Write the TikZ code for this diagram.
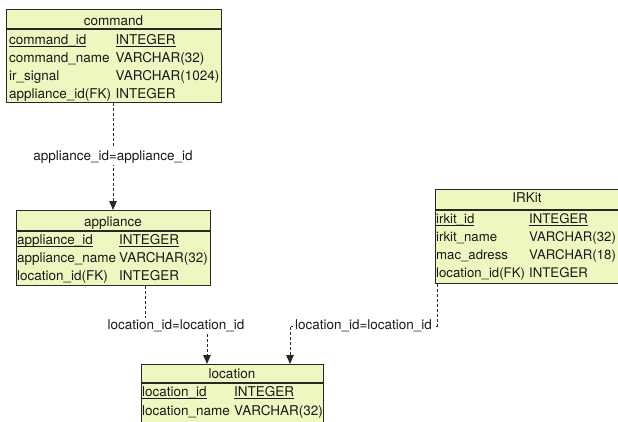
\documentclass[tikz,border=0pt]{standalone}
\usepackage{fontspec}
\setmainfont{TeX Gyre Heros}
\usetikzlibrary{arrows.meta}
\definecolor{tblfill}{RGB}{237,247,192}
\definecolor{ink}{RGB}{25,25,25}
\definecolor{edge}{RGB}{40,40,40}
\newcommand\pkey[1]{\setbox0\hbox{#1}\rlap{\rule[-2.3pt]{\wd0}{0.85pt}}\box0}
\begin{document}
\begin{tikzpicture}[x=1pt,y=-1pt,
  tbl/.style={draw=edge,line width=1.2pt,fill=tblfill,rectangle,inner sep=0pt,anchor=north west},
  fld/.style={anchor=base west,inner sep=0pt,text=ink,font=\fontsize{13.5}{16}\selectfont},
  ifld/.style={fld,font=\fontsize{13.2}{16}\selectfont},
  hdr/.style={anchor=base,inner sep=0pt,text=ink,font=\fontsize{13.5}{16}\selectfont},
  conn/.style={draw=edge,line width=0.9pt,dash pattern=on 3pt off 2pt},
  arr/.style={-{Triangle[length=9pt,width=7.5pt]}},
  lbl/.style={fill=white,inner xsep=2pt,inner ysep=2pt,text=ink,font=\fontsize{13.5}{16}\selectfont}]
\useasboundingbox (0,0) rectangle (618,421);
\fill[white] (0,0) rectangle (618,421);

% ---- command ----
\node[tbl,minimum width=215pt,minimum height=93pt] (cmd) at (6,9) {};
\draw[edge,line width=1.2pt] ([yshift=-20pt]cmd.north west) -- ([yshift=-20pt]cmd.north east);
\node[hdr] (cmdh) at (113.5,25) {command};
\node[fld] (cmd1a) at (9,44.5) {\pkey{command\_id}};
\node[fld] (cmd1b) at (115.5,44.5) {\pkey{INTEGER}};
\node[fld] (cmd2a) at (9,62.5) {command\_name};
\node[fld] (cmd2b) at (115.5,62.5) {VARCHAR(32)};
\node[fld] (cmd3a) at (9,80.5) {ir\_signal};
\node[fld] (cmd3b) at (115.5,80.5) {VARCHAR(1024)};
\node[fld] (cmd4a) at (9,98.5) {appliance\_id(FK)};
\node[fld] (cmd4b) at (115.5,98.5) {INTEGER};

% ---- appliance ----
\node[tbl,minimum width=194pt,minimum height=75pt] (app) at (16,210) {};
\draw[edge,line width=1.2pt] ([yshift=-21pt]app.north west) -- ([yshift=-21pt]app.north east);
\node[hdr] (apph) at (113,226) {appliance};
\node[fld] (app1a) at (17,244.5) {\pkey{appliance\_id}};
\node[fld] (app1b) at (119,244.5) {\pkey{INTEGER}};
\node[fld] (app2a) at (17,262.5) {appliance\_name};
\node[fld] (app2b) at (119,262.5) {VARCHAR(32)};
\node[fld] (app3a) at (17,280.5) {location\_id(FK)};
\node[fld] (app3b) at (119,280.5) {INTEGER};

% ---- IRKit ----
\node[tbl,minimum width=190pt,minimum height=94pt] (irk) at (435,189) {};
\draw[edge,line width=1.2pt] ([yshift=-21pt]irk.north west) -- ([yshift=-21pt]irk.north east);
\node[hdr] (irkh) at (527,202.5) {IRKit};
\node[ifld] (irk1a) at (436,223.5) {\pkey{irkit\_id}};
\node[ifld] (irk1b) at (529,223.5) {\pkey{INTEGER}};
\node[ifld] (irk2a) at (436,241.5) {irkit\_name};
\node[ifld] (irk2b) at (529,241.5) {VARCHAR(32)};
\node[ifld] (irk3a) at (436,259.5) {mac\_adress};
\node[ifld] (irk3b) at (529,259.5) {VARCHAR(18)};
\node[ifld] (irk4a) at (436,277.5) {location\_id(FK)};
\node[ifld] (irk4b) at (529,277.5) {INTEGER};

% ---- location ----
\node[tbl,minimum width=182pt,minimum height=70pt] (loc) at (141,364) {};
\draw[edge,line width=1.2pt] ([yshift=-19pt]loc.north west) -- ([yshift=-19pt]loc.north east);
\node[hdr] (loch) at (232,378) {location};
\node[fld] (loc1a) at (142,396.7) {\pkey{location\_id}};
\node[fld] (loc1b) at (234,396.7) {\pkey{INTEGER}};
\node[fld] (loc2a) at (142,415) {location\_name};
\node[fld] (loc2b) at (234,415) {VARCHAR(32)};

% ---- connectors ----
\draw[conn,arr] ([xshift=107pt]cmd.south west) -- node[lbl] (l1) {appliance\_id=appliance\_id} ([xshift=97pt]app.north west);
\draw[conn,arr] ([xshift=129pt]app.south west) -- ++(0,40) -| node[lbl,pos=0.25] (l2) {location\_id=location\_id} ([xshift=66pt]loc.north west);
\draw[conn,arr] ([xshift=2pt]irk.south west) -- ++(0,42) -| node[lbl,pos=0.25] (l3) {location\_id=location\_id} ([xshift=149pt]loc.north west);
\end{tikzpicture}
\end{document}
